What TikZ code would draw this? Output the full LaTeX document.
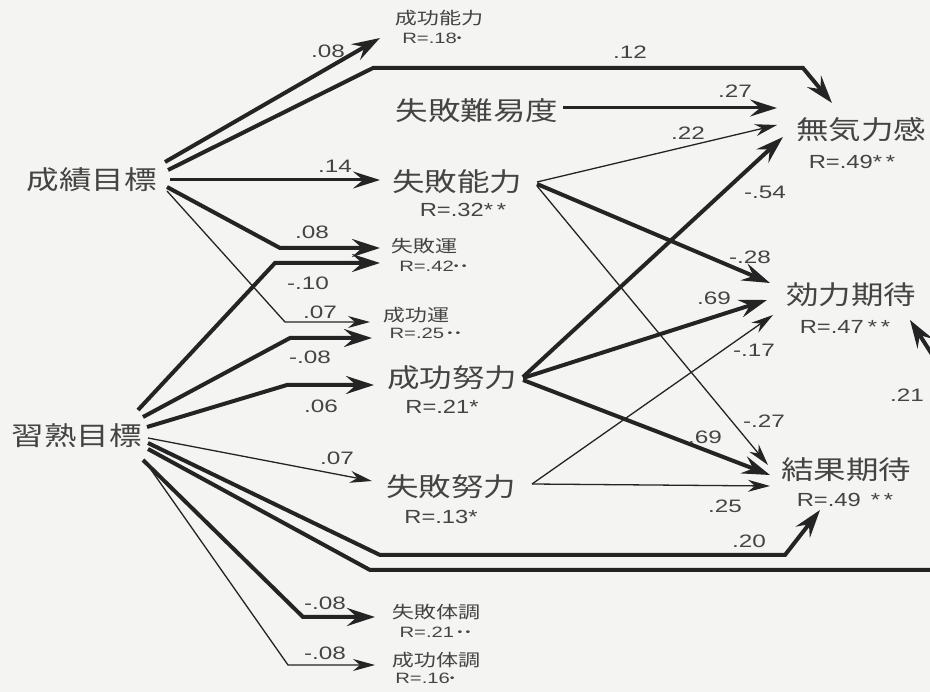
\documentclass[tikz,border=0pt]{standalone}
\usepackage{fontspec}
\usepackage{graphicx}
\setmainfont{Liberation Sans}
\newfontfamily\jpfont{Noto Sans CJK JP}
\usetikzlibrary{arrows.meta,calc}
\definecolor{ink}{RGB}{36,36,36}
\definecolor{txt}{RGB}{68,68,68}
\definecolor{paper}{RGB}{244,244,242}
\newcommand\jbig[1]{\scalebox{1.25}[1]{\jpfont\fontsize{26pt}{26pt}\selectfont #1}}
\newcommand\jsml[1]{\scalebox{1.3}[1]{\jpfont\fontsize{17pt}{17pt}\selectfont #1}}
\newcommand\rbig[1]{\scalebox{1.25}[1]{\fontsize{19pt}{19pt}\selectfont #1}}
\newcommand\rsml[1]{\scalebox{1.35}[1]{\fontsize{15pt}{15pt}\selectfont #1}}
\newcommand\nlab[1]{\scalebox{1.35}[1]{\fontsize{18pt}{18pt}\selectfont #1}}
\newcommand\dotm{{\fontsize{10pt}{10pt}\selectfont\raisebox{2pt}{•}}}
\begin{document}
\begin{tikzpicture}[x=1pt,y=-1pt,
  lbl/.style={inner sep=0pt,text=txt},
  hv/.style={draw=ink,line width=4pt,-{Stealth[length=28pt,width=18pt,inset=10pt]}},
  md/.style={draw=ink,line width=3pt,-{Stealth[length=27pt,width=17pt,inset=10pt]}},
  tn/.style={draw=ink,line width=1.3pt,-{Stealth[length=22pt,width=12pt,inset=7pt]}}]
\useasboundingbox (0,0) rectangle (930,692);
\fill[paper] (0,0) rectangle (930,692);
\clip (0,0) rectangle (930,692);
% main nodes
\node[lbl] (cg) at (92,180) {\jbig{成績目標}};
\node[lbl] (sj) at (77,436) {\jbig{習熟目標}};
\node[lbl] (sa) at (439,18) {\jsml{成功能力}};
\node[lbl] (sar) at (432,38) {\rsml{R=.18\dotm}};
\node[lbl] (sn) at (477,111) {\jbig{失敗難易度}};
\node[lbl] (sk) at (457,182) {\jbig{失敗能力}};
\node[lbl] (skr) at (463,210) {\rbig{R=.32*\,*}};
\node[lbl] (su) at (424,246) {\jsml{失敗運}};
\node[lbl] (sur) at (433,266) {\rsml{R=.42\dotm\,\dotm}};
\node[lbl] (cu) at (416,315) {\jsml{成功運}};
\node[lbl] (cur) at (425,333) {\rsml{R=.25\,\dotm\,\dotm}};
\node[lbl] (cd) at (452,378) {\jbig{成功努力}};
\node[lbl] (cdr) at (442,407) {\rbig{R=.21*}};
\node[lbl] (sd) at (451,487) {\jbig{失敗努力}};
\node[lbl] (sdr) at (441,517) {\rbig{R=.13*}};
\node[lbl] (st) at (436,612) {\jsml{失敗体調}};
\node[lbl] (str) at (435,632) {\rsml{R=.21\,\dotm\,\dotm}};
\node[lbl] (ct) at (436,660) {\jsml{成功体調}};
\node[lbl] (ctr) at (425,678) {\rsml{R=.16\dotm}};
\node[lbl] (mk) at (861,130) {\jbig{無気力感}};
\node[lbl] (mkr) at (852,162) {\rbig{R=.49*\,*}};
\node[lbl] (kk) at (851,295) {\jbig{効力期待}};
\node[lbl] (kkr) at (845,327) {\rbig{R=.47\,*\,*}};
\node[lbl] (kt) at (846,470) {\jbig{結果期待}};
\node[lbl] (ktr) at (845,500) {\rbig{R=.49\hspace{8pt}*\,*}};
% from 成績目標
\draw[hv] ($(cg)+(73,-18)$) -- ($(sa)+(-59,20)$);
\draw[hv] ($(cg)+(76,-10)$) -- (373,68) -- (803,68) -- ($(mk)+(-29,-27)$);
\draw[md] ($(cg)+(78,0)$) -- ($(sk)+(-77,-2)$);
\draw[hv] ($(cg)+(75,7)$) -- (280,248) -- ($(su)+(-44,2)$);
\draw[tn] ($(cg)+(75,11)$) -- (285,322) -- ($(cu)+(-46,7)$);
% from 習熟目標
\draw[hv] ($(sj)+(61,-26)$) -- (275,263) -- ($(su)+(-44,17)$);
\draw[hv] ($(sj)+(66,-19)$) -- (290,338) -- ($(cu)+(-44,23)$);
\draw[hv] ($(sj)+(70,-9)$) -- (287,385) -- ($(cd)+(-78,7)$);
\draw[tn] ($(sj)+(71,2)$) -- ($(sd)+(-79,-6)$);
\draw[hv] ($(sj)+(71,7)$) -- (380,555) -- (785,555) -- ($(kt)+(-26,40)$);
\draw[hv] ($(sj)+(71,13)$) -- (370,570) -- (1070,570) -- ($(kk)+(59,25)$);
\draw[hv] ($(sj)+(66,24)$) -- (303,617) -- ($(st)+(-61,5)$);
\draw[tn] ($(sj)+(70,28)$) -- (288,665) -- ($(ct)+(-61,5)$);
% middle
\draw[md] ($(sn)+(86,-3)$) -- ($(mk)+(-84,-22)$);
\draw[tn] ($(sk)+(80,0)$) -- ($(mk)+(-84,-5)$);
\draw[hv] ($(sk)+(80,2)$) -- ($(kk)+(-81,-12)$);
\draw[tn] ($(sk)+(80,4)$) -- ($(kt)+(-78,-5)$);
\draw[hv] ($(cd)+(71,-1)$) -- ($(mk)+(-78,7)$);
\draw[hv] ($(cd)+(71,0)$) -- ($(kk)+(-84,5)$);
\draw[hv] ($(cd)+(71,2)$) -- ($(kt)+(-76,5)$);
\draw[tn] ($(sd)+(81,-3)$) -- ($(kk)+(-78,20)$);
\draw[tn] ($(sd)+(81,-3)$) -- ($(kt)+(-76,16)$);
% coefficient labels
\node[lbl] (l1) at (328,51) {\nlab{.08}};
\node[lbl] (l2) at (630,52) {\nlab{.12}};
\node[lbl] (l3) at (335,166) {\nlab{.14}};
\node[lbl] (l4) at (312,232) {\nlab{.08}};
\node[lbl] (l5) at (320,312) {\nlab{.07}};
\node[lbl] (l6) at (308,283) {\nlab{-.10}};
\node[lbl] (l7) at (310,357) {\nlab{-.08}};
\node[lbl] (l8) at (321,406) {\nlab{.06}};
\node[lbl] (l9) at (337,458) {\nlab{.07}};
\node[lbl] (l10) at (749,541) {\nlab{.20}};
\node[lbl] (l11) at (907,395) {\nlab{.21}};
\node[lbl] (l12) at (325,603) {\nlab{-.08}};
\node[lbl] (l13) at (325,653) {\nlab{-.08}};
\node[lbl] (l14) at (735,91) {\nlab{.27}};
\node[lbl] (l15) at (688,133) {\nlab{.22}};
\node[lbl] (l16) at (750,257) {\nlab{-.28}};
\node[lbl] (l17) at (764,421) {\nlab{-.27}};
\node[lbl] (l18) at (765,192) {\nlab{-.54}};
\node[lbl] (l19) at (714,298) {\nlab{.69}};
\node[lbl] (l20) at (705,437) {\nlab{.69}};
\node[lbl] (l21) at (754,350) {\nlab{-.17}};
\node[lbl] (l22) at (725,506) {\nlab{.25}};
\end{tikzpicture}
\end{document}
